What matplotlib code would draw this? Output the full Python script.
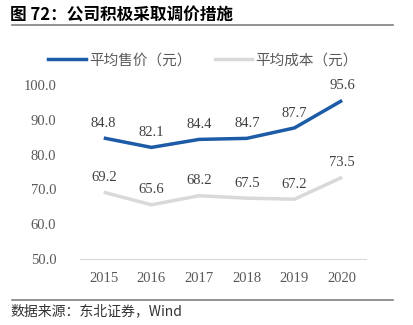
import matplotlib.pyplot as plt
from matplotlib.lines import Line2D

years = ["2015", "2016", "2017", "2018", "2019", "2020"]
price = [84.8, 82.1, 84.4, 84.7, 87.7, 95.6]
cost = [69.2, 65.6, 68.2, 67.5, 67.2, 73.5]
yticks = [50, 60, 70, 80, 90, 100]

cjk = ["Noto Sans CJK SC", "DejaVu Sans"]
serif = ["Liberation Serif", "Noto Sans CJK SC"]
blue = "#1c5ba6"
grey = "#d9d9d9"
txt = "#595959"

fig = plt.figure(figsize=(4.14, 3.25), dpi=100)
ax = fig.add_axes([0.193, 0.203, 0.691, 0.535])

x = range(len(years))
ax.plot(x, price, color=blue, lw=2.5, solid_capstyle="butt")
ax.plot(x, cost, color=grey, lw=2.5, solid_capstyle="butt")
for i in x:
    ax.annotate(f"{price[i]:.1f}", (i, price[i]), xytext=(0, 6), textcoords="offset points",
                ha="center", va="bottom", fontsize=10.5, family=serif, color="#404040")
    ax.annotate(f"{cost[i]:.1f}", (i, cost[i]), xytext=(0, 6), textcoords="offset points",
                ha="center", va="bottom", fontsize=10.5, family=serif, color="#404040")

ax.set_xlim(-0.5, 5.5)
ax.set_ylim(50, 100)
ax.set_xticks(list(x))
ax.set_xticklabels(years, family=serif, fontsize=10.5, color=txt)
ax.set_yticks(yticks)
ax.set_yticklabels([f"{v:.1f}" for v in yticks], family=serif, fontsize=10.5, color=txt)
ax.tick_params(length=0, pad=9)
ax.tick_params(axis="y", pad=17)
for s in ["top", "right", "left"]:
    ax.spines[s].set_visible(False)
ax.spines["bottom"].set_color(grey)

handles = [Line2D([], [], color=blue, lw=2.5), Line2D([], [], color=grey, lw=2.5)]
leg = fig.legend(handles, ["平均售价（元）", "平均成本（元）"], loc="center",
                 bbox_to_anchor=(0.49, 0.815), ncol=2, frameon=False,
                 prop={"family": cjk, "size": 10.5}, handlelength=2.6, handletextpad=0.2,
                 columnspacing=1.6)
for t in leg.get_texts():
    t.set_color(txt)

fig.text(0.025, 0.953, "图 72：公司积极采取调价措施", family=cjk, fontsize=12,
         fontweight="bold", va="center", ha="left")
fig.add_artist(Line2D([0.03, 0.95], [0.922, 0.922], color="#808080", lw=1.2))
fig.add_artist(Line2D([0.03, 0.95], [0.077, 0.077], color="#808080", lw=1.2))
fig.text(0.025, 0.042, "数据来源：东北证券，Wind", family=cjk, fontsize=10,
         va="center", ha="left", color="#333333")

fig.savefig("out.png", dpi=100)
